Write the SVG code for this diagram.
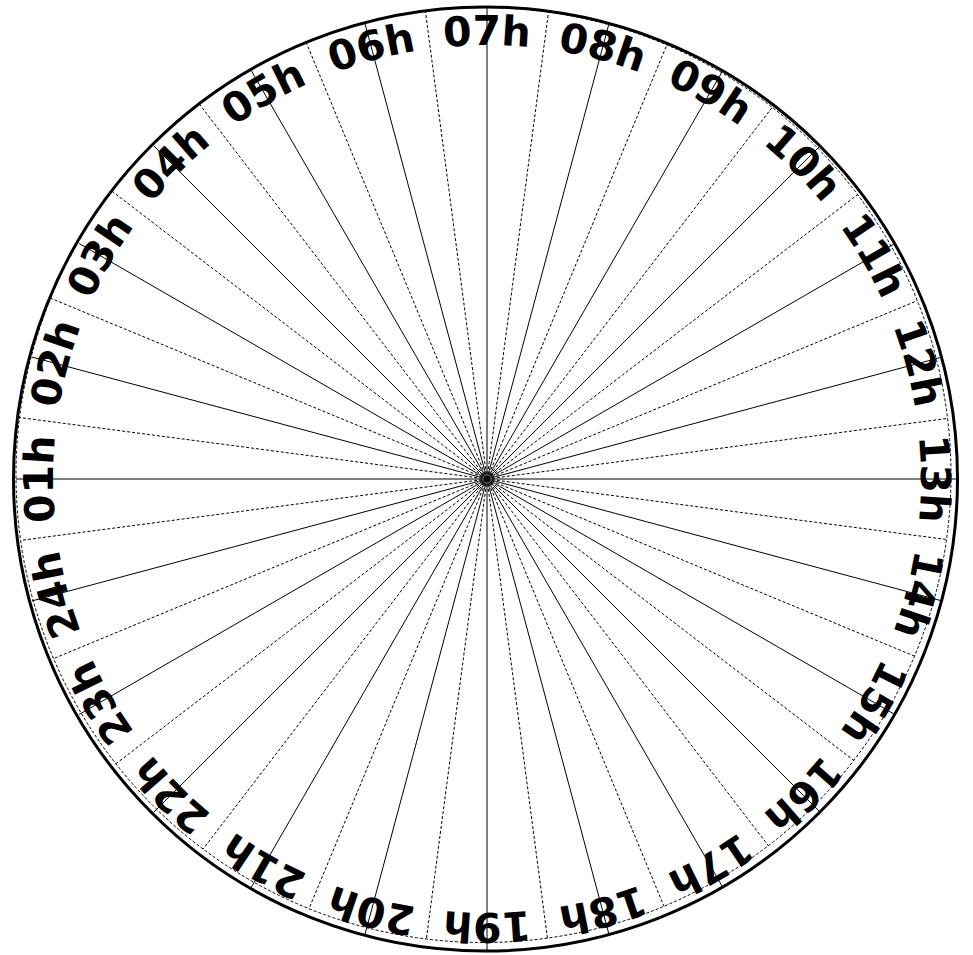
<svg xmlns="http://www.w3.org/2000/svg" xmlns:xlink="http://www.w3.org/1999/xlink" width="973" height="955" viewBox="0 0 973 955">
<style>
.solid{stroke:#000;stroke-width:1;fill:none}
.dash{stroke:#000;stroke-width:1;stroke-dasharray:3,2;fill:none}
.lbl{font-family:"DejaVu Sans","Liberation Sans",sans-serif;font-weight:bold;font-size:41px;fill:#000}
</style>
<defs>
<path id="arc" d="M 53 479 A 434 434 0 0 1 921 479"/>
</defs>
<rect width="973" height="955" fill="#fff"/>
<g id="rim">
<circle cx="485.5" cy="479" r="472" fill="none" stroke="#000" stroke-width="3"/>
<circle cx="483.5" cy="475" r="467.5" class="dash"/>
</g>
<g id="connectors">
<g id="hour-lines" class="solid">
<line x1="487" y1="479" x2="487" y2="8"/>
<line x1="487" y1="479" x2="608.9" y2="24.0"/>
<line x1="487" y1="479" x2="722.5" y2="71.1"/>
<line x1="487" y1="479" x2="820.0" y2="146.0"/>
<line x1="487" y1="479" x2="894.9" y2="243.5"/>
<line x1="487" y1="479" x2="942.0" y2="357.1"/>
<line x1="487" y1="479" x2="958" y2="479"/>
<line x1="487" y1="479" x2="942.0" y2="600.9"/>
<line x1="487" y1="479" x2="894.9" y2="714.5"/>
<line x1="487" y1="479" x2="820.0" y2="812.0"/>
<line x1="487" y1="479" x2="722.5" y2="886.9"/>
<line x1="487" y1="479" x2="608.9" y2="934.0"/>
<line x1="487" y1="479" x2="487" y2="950"/>
<line x1="487" y1="479" x2="365.1" y2="934.0"/>
<line x1="487" y1="479" x2="251.5" y2="886.9"/>
<line x1="487" y1="479" x2="154.0" y2="812.0"/>
<line x1="487" y1="479" x2="79.1" y2="714.5"/>
<line x1="487" y1="479" x2="32.0" y2="600.9"/>
<line x1="487" y1="479" x2="16" y2="479"/>
<line x1="487" y1="479" x2="32.0" y2="357.1"/>
<line x1="487" y1="479" x2="79.1" y2="243.5"/>
<line x1="487" y1="479" x2="154.0" y2="146.0"/>
<line x1="487" y1="479" x2="251.5" y2="71.1"/>
<line x1="487" y1="479" x2="365.1" y2="24.0"/>
</g>
<g id="half-hour-lines" class="dash">
<line x1="487" y1="479" x2="548.5" y2="12.0"/>
<line x1="487" y1="479" x2="666.8" y2="44.9"/>
<line x1="487" y1="479" x2="772.2" y2="107.3"/>
<line x1="487" y1="479" x2="857.6" y2="194.6"/>
<line x1="487" y1="479" x2="917.3" y2="300.7"/>
<line x1="487" y1="479" x2="947.6" y2="418.4"/>
<line x1="487" y1="479" x2="946.5" y2="539.5"/>
<line x1="487" y1="479" x2="914.5" y2="656.1"/>
<line x1="487" y1="479" x2="853.8" y2="760.4"/>
<line x1="487" y1="479" x2="768.4" y2="845.7"/>
<line x1="487" y1="479" x2="664.0" y2="906.3"/>
<line x1="487" y1="479" x2="547.4" y2="938.1"/>
<line x1="487" y1="479" x2="426.4" y2="939.0"/>
<line x1="487" y1="479" x2="309.0" y2="908.7"/>
<line x1="487" y1="479" x2="203.0" y2="849.1"/>
<line x1="487" y1="479" x2="115.9" y2="763.8"/>
<line x1="487" y1="479" x2="53.5" y2="658.6"/>
<line x1="487" y1="479" x2="20.6" y2="540.4"/>
<line x1="487" y1="479" x2="19.5" y2="417.5"/>
<line x1="487" y1="479" x2="50.7" y2="298.3"/>
<line x1="487" y1="479" x2="112.0" y2="191.2"/>
<line x1="487" y1="479" x2="199.2" y2="103.9"/>
<line x1="487" y1="479" x2="306.2" y2="42.5"/>
<line x1="487" y1="479" x2="425.4" y2="11.1"/>
</g>
</g>
<g id="labels" class="lbl" text-anchor="middle">
<g id="h07"><text><textPath xlink:href="#arc" href="#arc" startOffset="50%">07h</textPath></text></g>
<g id="h08" transform="rotate(15 487 479)"><text><textPath xlink:href="#arc" href="#arc" startOffset="50%">08h</textPath></text></g>
<g id="h09" transform="rotate(30 487 479)"><text><textPath xlink:href="#arc" href="#arc" startOffset="50%">09h</textPath></text></g>
<g id="h10" transform="rotate(45 487 479)"><text><textPath xlink:href="#arc" href="#arc" startOffset="50%">10h</textPath></text></g>
<g id="h11" transform="rotate(60 487 479)"><text><textPath xlink:href="#arc" href="#arc" startOffset="50%">11h</textPath></text></g>
<g id="h12" transform="rotate(75 487 479)"><text><textPath xlink:href="#arc" href="#arc" startOffset="50%">12h</textPath></text></g>
<g id="h13" transform="rotate(90 487 479)"><text><textPath xlink:href="#arc" href="#arc" startOffset="50%">13h</textPath></text></g>
<g id="h14" transform="rotate(105 487 479)"><text><textPath xlink:href="#arc" href="#arc" startOffset="50%">14h</textPath></text></g>
<g id="h15" transform="rotate(120 487 479)"><text><textPath xlink:href="#arc" href="#arc" startOffset="50%">15h</textPath></text></g>
<g id="h16" transform="rotate(135 487 479)"><text><textPath xlink:href="#arc" href="#arc" startOffset="50%">16h</textPath></text></g>
<g id="h17" transform="rotate(150 487 479)"><text><textPath xlink:href="#arc" href="#arc" startOffset="50%">17h</textPath></text></g>
<g id="h18" transform="rotate(165 487 479)"><text><textPath xlink:href="#arc" href="#arc" startOffset="50%">18h</textPath></text></g>
<g id="h19" transform="rotate(180 487 479)"><text><textPath xlink:href="#arc" href="#arc" startOffset="50%">19h</textPath></text></g>
<g id="h20" transform="rotate(195 487 479)"><text><textPath xlink:href="#arc" href="#arc" startOffset="50%">20h</textPath></text></g>
<g id="h21" transform="rotate(210 487 479)"><text><textPath xlink:href="#arc" href="#arc" startOffset="50%">21h</textPath></text></g>
<g id="h22" transform="rotate(225 487 479)"><text><textPath xlink:href="#arc" href="#arc" startOffset="50%">22h</textPath></text></g>
<g id="h23" transform="rotate(240 487 479)"><text><textPath xlink:href="#arc" href="#arc" startOffset="50%">23h</textPath></text></g>
<g id="h24" transform="rotate(255 487 479)"><text><textPath xlink:href="#arc" href="#arc" startOffset="50%">24h</textPath></text></g>
<g id="h01" transform="rotate(270 487 479)"><text><textPath xlink:href="#arc" href="#arc" startOffset="50%">01h</textPath></text></g>
<g id="h02" transform="rotate(285 487 479)"><text><textPath xlink:href="#arc" href="#arc" startOffset="50%">02h</textPath></text></g>
<g id="h03" transform="rotate(300 487 479)"><text><textPath xlink:href="#arc" href="#arc" startOffset="50%">03h</textPath></text></g>
<g id="h04" transform="rotate(315 487 479)"><text><textPath xlink:href="#arc" href="#arc" startOffset="50%">04h</textPath></text></g>
<g id="h05" transform="rotate(330 487 479)"><text><textPath xlink:href="#arc" href="#arc" startOffset="50%">05h</textPath></text></g>
<g id="h06" transform="rotate(345 487 479)"><text><textPath xlink:href="#arc" href="#arc" startOffset="50%">06h</textPath></text></g>
</g>
</svg>
